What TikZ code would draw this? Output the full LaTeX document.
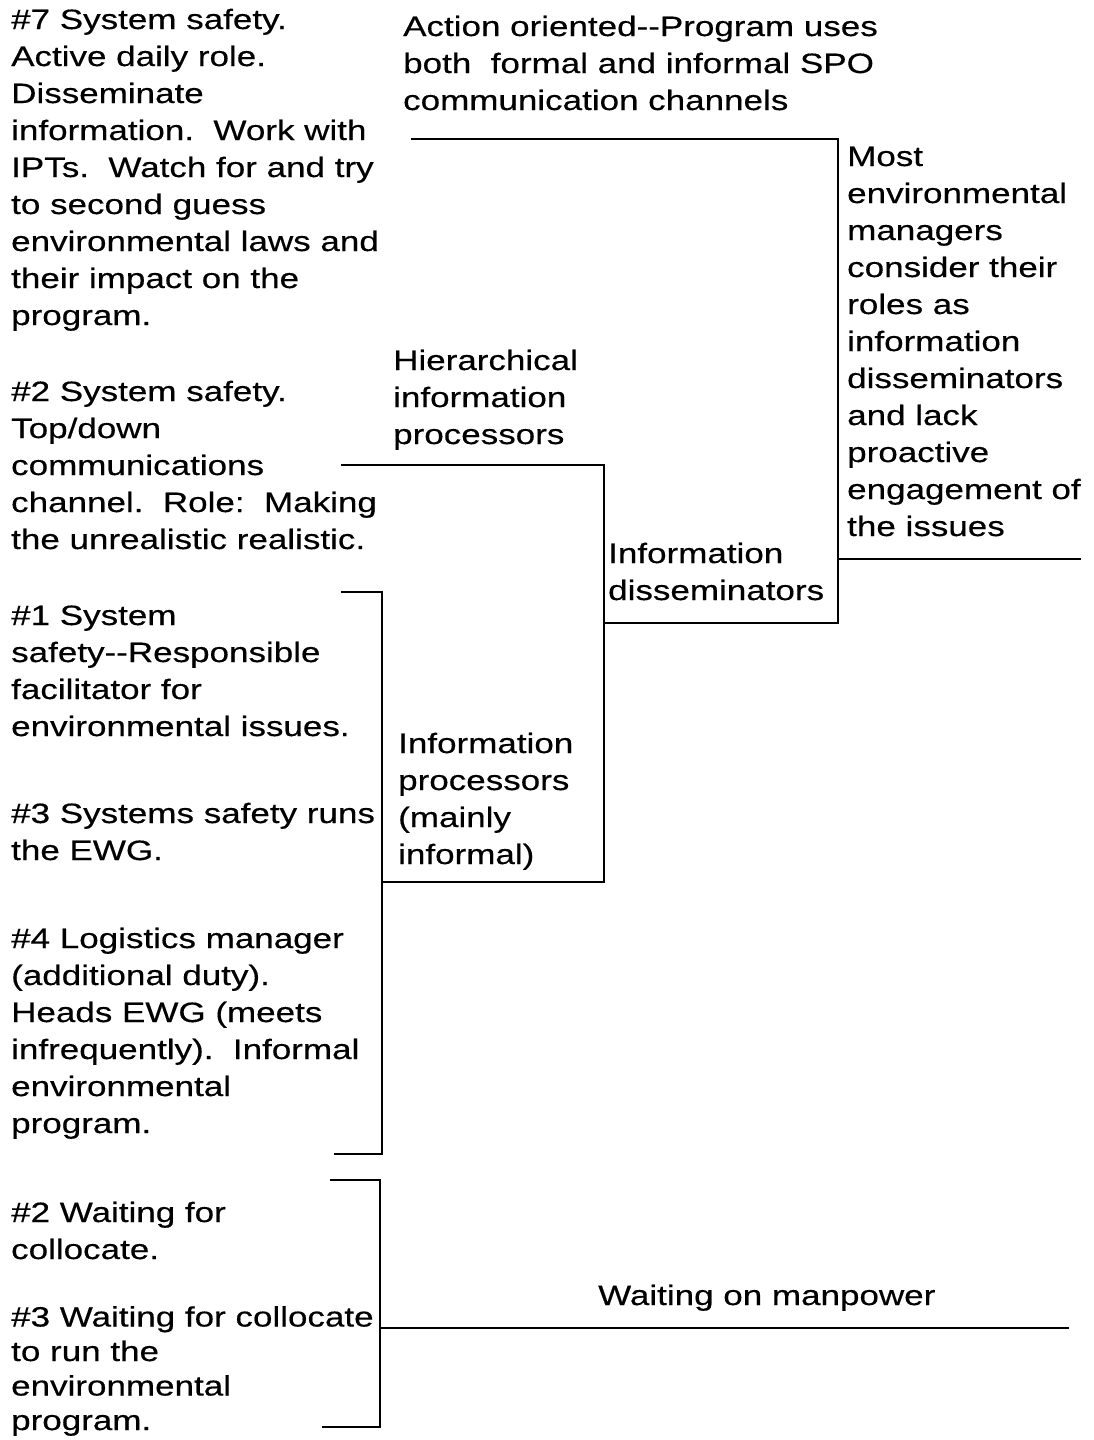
\documentclass[tikz,border=0pt]{standalone}
\usepackage{fontspec}
\setmainfont[FakeStretch=1.25,FakeBold=0.4]{Liberation Sans}
\begin{document}
\begin{tikzpicture}[x=1pt,y=-1pt,
  % multi-line nodes are placed by the baseline of their last line
  txt/.style={anchor=base west, inner sep=0pt, align=left,
    font=\fontsize{28}{37}\selectfont},
  tight/.style={txt, font=\fontsize{28}{34.5}\selectfont},
  rule/.style={line width=2pt, line cap=rect}]
\useasboundingbox[fill=white] (0,0) rectangle (1094,1440);

% left column: statements
\node[txt] (s7) at (11,325) {\#7 System safety.\\Active daily role.\\Disseminate\\information.\ \ Work with\\IPTs.\ \ Watch for and try\\to second guess\\environmental laws and\\their impact on the\\program.};
\node[txt] (s2) at (11,549) {\#2 System safety.\\Top/down\\communications\\channel.\ \ Role:\ \ Making\\the unrealistic realistic.};
\node[txt] (s1) at (11,736) {\#1 System\\safety-{}-Responsible\\facilitator for\\environmental issues.};
\node[txt] (s3) at (11,860) {\#3 Systems safety runs\\the EWG.};
\node[txt] (s4) at (11,1133) {\#4 Logistics manager\\(additional duty).\\Heads EWG (meets\\infrequently).\ \ Informal\\environmental\\program.};
\node[txt] (w2) at (11,1259) {\#2 Waiting for\\collocate.};
\node[tight] (w3) at (11,1430) {\#3 Waiting for collocate\\to run the\\environmental\\program.};

% category labels
\node[txt] (act) at (403,110) {Action oriented-{}-Program uses\\both\ \ formal and informal SPO\\communication channels};
\node[txt] (hier) at (393,444) {Hierarchical\\information\\processors};
\node[txt] (diss) at (608,600) {Information\\disseminators};
\node[txt] (proc) at (398,864) {Information\\processors\\(mainly\\informal)};
\node[txt] (most) at (847,536) {Most\\environmental\\managers\\consider their\\roles as\\information\\disseminators\\and lack\\proactive\\engagement of\\the issues};
\node[txt] (man) at (598,1305) {Waiting on manpower};

% bracket corners
\coordinate (a1) at (412,139);  \coordinate (a2) at (838,139);
\coordinate (a3) at (838,623);  \coordinate (a4) at (604,623);
\coordinate (h1) at (342,465);  \coordinate (h2) at (604,465);
\coordinate (h3) at (604,882);  \coordinate (h4) at (383,882);
\coordinate (p1) at (342,592);  \coordinate (p2) at (382,592);
\coordinate (p3) at (382,1154); \coordinate (p4) at (335,1154);
\coordinate (m1) at (838,559);  \coordinate (m2) at (1080,559);
\coordinate (c1) at (331,1180); \coordinate (c2) at (380,1180);
\coordinate (c3) at (380,1427); \coordinate (c4) at (323,1427);
\coordinate (c5) at (380,1328); \coordinate (c6) at (1068,1328);

% connectors
\draw[rule] (a1) -- (a2) -- (a3) -- (a4);
\draw[rule] (h1) -- (h2) -- (h3) -- (h4);
\draw[rule] (p1) -- (p2) -- (p3) -- (p4);
\draw[rule] (m1) -- (m2);
\draw[rule] (c1) -- (c2) -- (c3) -- (c4);
\draw[rule] (c5) -- (c6);
\end{tikzpicture}
\end{document}
